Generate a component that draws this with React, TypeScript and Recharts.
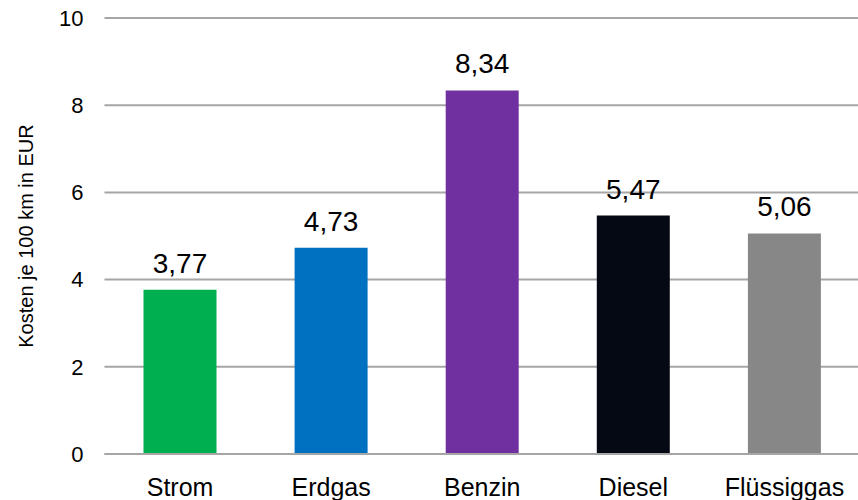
import React from "react";
import { BarChart, Bar, XAxis, YAxis, CartesianGrid, Cell, LabelList } from "recharts";

const categories = ["Strom", "Erdgas", "Benzin", "Diesel", "Flüssiggas"];
const costs = [3.77, 4.73, 8.34, 5.47, 5.06];
const colors = ["#00B050", "#0070C0", "#7030A0", "#040914", "#878787"];
const yTicks = [0, 2, 4, 6, 8, 10];

const data = categories.map((name, i) => ({ name, value: costs[i] }));

const FONT = "'Liberation Sans', Arial, sans-serif";
const fmt = (v: number) => v.toFixed(2).replace(".", ",");

export default function App() {
  return (
    <div style={{ position: "absolute", left: 0, top: 0, width: 858, height: 500, overflow: "hidden", background: "#fff" }}>
      <BarChart
        width={860}
        height={500}
        data={data}
        margin={{ top: 18, right: 0, bottom: 0, left: 0 }}
        style={{ fontFamily: FONT }}
      >
        <CartesianGrid horizontal vertical={false} stroke="#A6A6A6" strokeWidth={2} />
        <XAxis
          dataKey="name"
          height={46}
          tickLine={false}
          tickSize={0}
          tickMargin={24}
          axisLine={{ stroke: "#A6A6A6", strokeWidth: 2 }}
          tick={{ fill: "#000", fontSize: 25, fontFamily: FONT }}
          interval={0}
        />
        <YAxis
          domain={[0, 10]}
          ticks={yTicks}
          width={104.5}
          tickLine={false}
          tickSize={0}
          tickMargin={21}
          axisLine={false}
          tick={{ fill: "#000", fontSize: 22, fontFamily: FONT }}
          label={{
            value: "Kosten je 100 km in EUR",
            angle: -90,
            position: "insideLeft",
            offset: 26,
            style: { textAnchor: "middle", fill: "#000", fontSize: 20, fontFamily: FONT },
          }}
        />
        <Bar dataKey="value" barSize={73} isAnimationActive={false}>
          {data.map((d, i) => (
            <Cell key={d.name} fill={colors[i]} />
          ))}
          <LabelList
            dataKey="value"
            position="top"
            offset={17}
            formatter={(v: any) => fmt(Number(v))}
            style={{ fill: "#000", fontSize: 28, fontFamily: FONT }}
          />
        </Bar>
      </BarChart>
    </div>
  );
}
